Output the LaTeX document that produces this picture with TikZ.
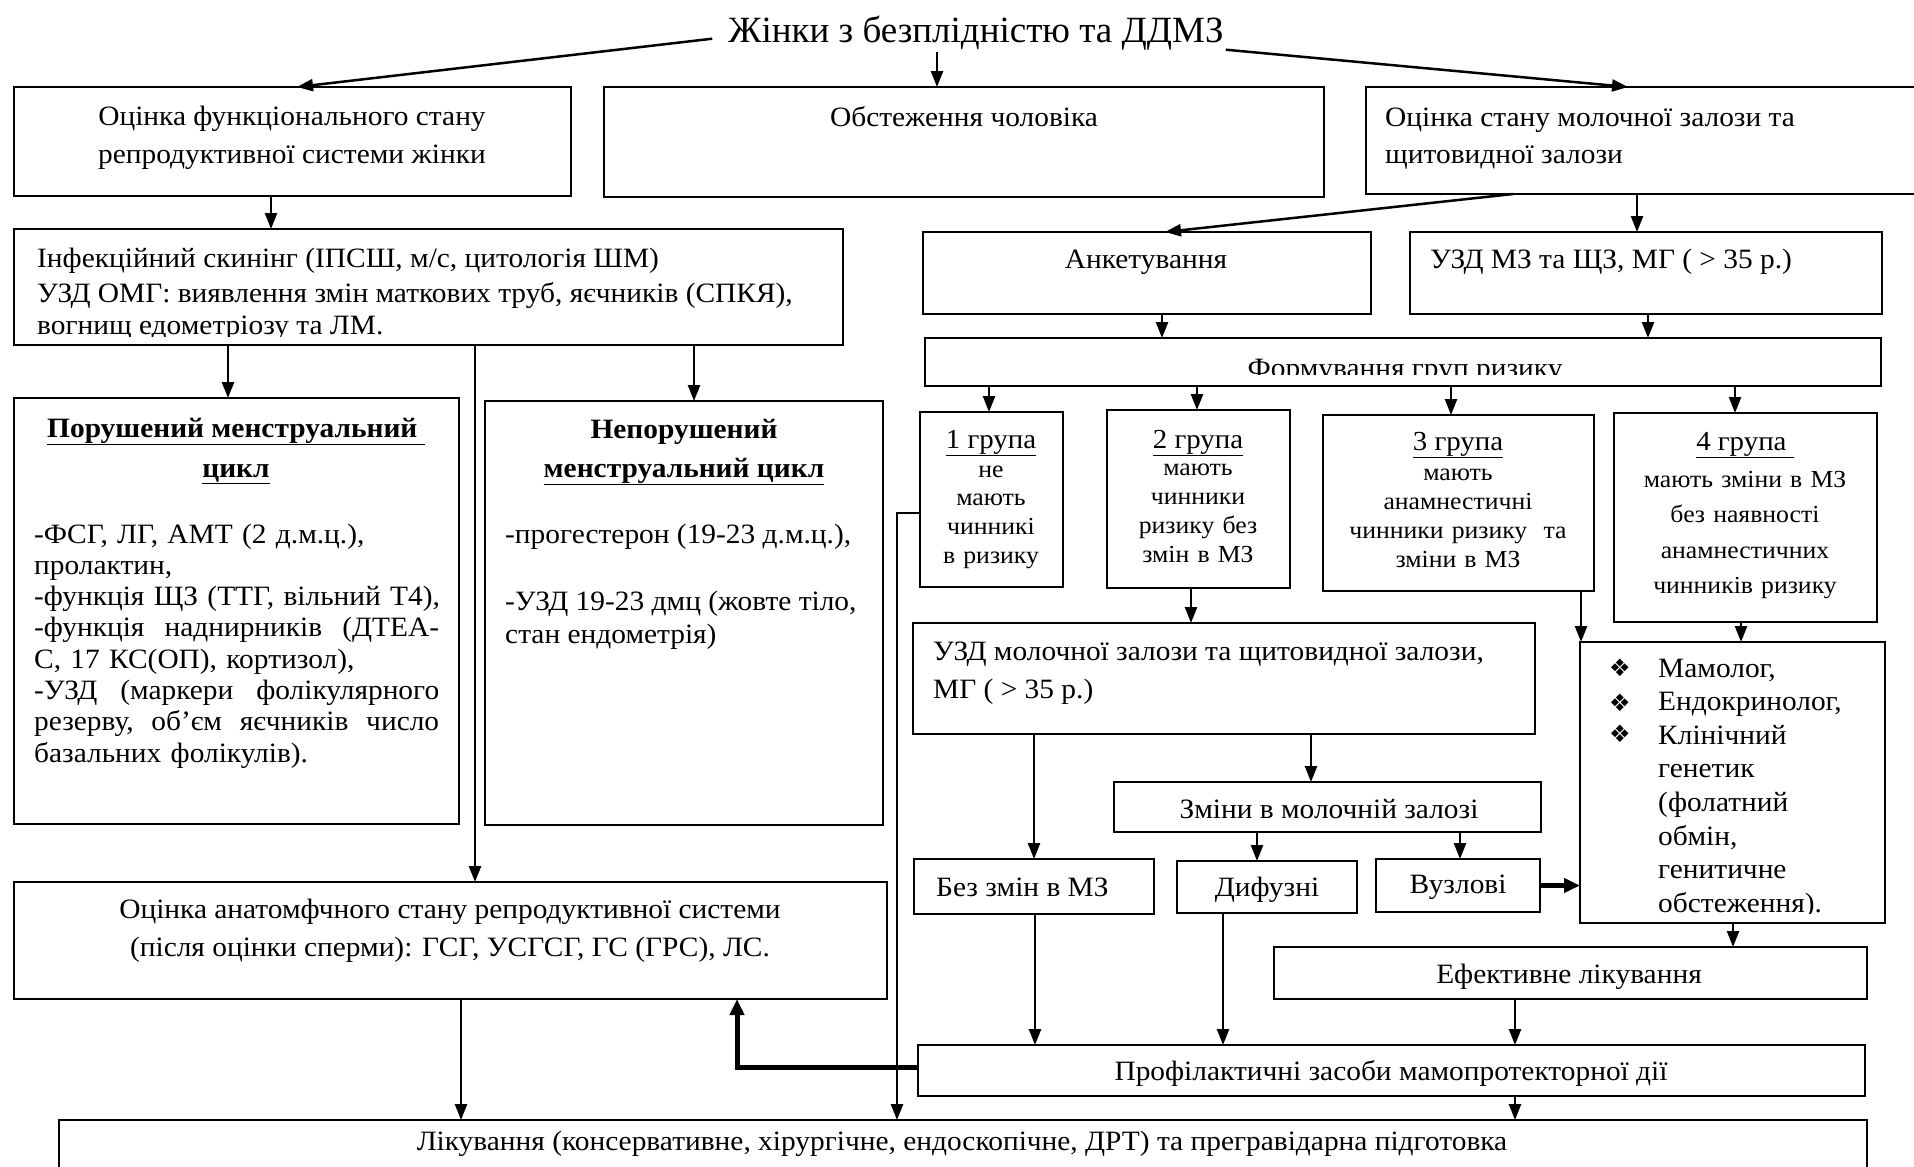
\documentclass[tikz,border=0pt]{standalone}
\usepackage{fontspec}
\setmainfont{Liberation Serif}[FakeStretch=1.05]
\newfontfamily\titlefont{Liberation Serif}
\newfontfamily\symfont{DejaVu Sans}
\usetikzlibrary{arrows.meta}
\newcommand\mybox[5]{\node[box, minimum width={(#4)-(#2)}, minimum height={(#5)-(#3)}] (#1) at (#2,#3) {};}
\newcommand\jline[1]{\leavevmode\hbox to 405pt{#1}}
\begin{document}
\begin{tikzpicture}[x=1pt,y=-1pt, font=\fontsize{28}{30}\selectfont,
  box/.style={draw, line width=2pt, inner sep=0pt, outer sep=0pt, anchor=north west},
  lbl/.style={inner sep=0pt, anchor=base},
  lbll/.style={inner sep=0pt, anchor=base west},
  bld/.style={font=\fontsize{28}{30}\selectfont\bfseries},
  arr/.style={line width=2.5pt, -{Triangle[length=16pt,width=12pt]}},
  bigarr/.style={line width=5pt, -{Triangle[length=16pt,width=14pt]}},
  grp/.style={inner sep=0pt, anchor=base, align=center, text width=#1},
  gfont/.style={font=\fontsize{24.5}{#1}\selectfont},
  ghead/.style={font=\fontsize{27.5}{29}\selectfont},
  bul/.style={inner sep=0pt, anchor=base west, font=\symfont\fontsize{24}{26}\selectfont},
]
\clip (0,0) rectangle (1914,1167);
\fill[white] (0,0) rectangle (1914,1167);

% boxes
\mybox{A}{14}{87}{571}{196}
\mybox{B}{604}{87}{1324}{197}
\mybox{C}{1366}{87}{1935}{194}
\mybox{D}{14}{229}{843}{345}
\mybox{E}{923}{232}{1371}{314}
\mybox{F}{1410}{232}{1882}{314}
\mybox{G}{925}{338}{1881}{386}
\mybox{R}{14}{398}{459}{824}
\mybox{S}{485}{401}{883}{825}
\mybox{G1}{920}{412}{1063}{587}
\mybox{G2}{1107}{410}{1290}{588}
\mybox{G3}{1323}{415}{1594}{591}
\mybox{G4}{1614}{413}{1877}{622}
\mybox{H}{913}{623}{1535}{734}
\mybox{I}{1580}{642}{1885}{923}
\mybox{J}{1114}{782}{1541}{832}
\mybox{K}{914}{859}{1154}{914}
\mybox{L}{1177}{861}{1357}{913}
\mybox{M}{1376}{859}{1540}{912}
\mybox{N}{1274}{947}{1867}{999}
\mybox{O}{14}{882}{887}{999}
\mybox{P}{918}{1045}{1865}{1096}
\mybox{Q}{59}{1120}{1867}{1190}

% texts
\node[lbl, font=\titlefont\fontsize{37}{44}\selectfont, inner sep=2pt] (T) at (976,42) {Жінки з безплідністю та ДДМЗ};
\node[lbl] (tA1) at (292,125) {Оцінка функціонального стану};
\node[lbl] (tA2) at (292,163) {репродуктивної системи жінки};
\node[lbl] (tB) at (964,126) {Обстеження чоловіка};
\node[lbll] (tC1) at (1385,126) {Оцінка стану молочної залози та};
\node[lbll] (tC2) at (1385,163) {щитовидної залози};
\node[lbll] (tD1) at (37,267) {Інфекційний скинінг (ІПСШ, м/с, цитологія ШМ)};
\node[lbll] (tD2) at (37,302) {УЗД ОМГ: виявлення змін маткових труб, яєчників (СПКЯ),};
\begin{scope}
\clip (14,229) rectangle (843,336);
\node[lbll] (tD3) at (37,334) {вогнищ едометріозу та ЛМ.};
\end{scope}
\node[lbl] (tE) at (1146,268) {Анкетування};
\node[lbll] (tF) at (1430,268) {УЗД МЗ та ЩЗ, МГ ( > 35 р.)};
\begin{scope}
\clip (925,338) rectangle (1881,374);
\node[lbl] (tG) at (1405,377) {Формування груп ризику};
\end{scope}

\node[lbl, bld] (tR1) at (236,437) {\underline{Порушений менструальний\ }};
\node[lbl, bld] (tR2) at (236,477) {\underline{цикл}};
\node[lbll, text width=440pt, align=left, font=\fontsize{28}{31.3}\selectfont] (tR3) at (34,543)
 {-ФСГ, ЛГ, АМТ (2 д.м.ц.),\\
  пролактин,\\
  -функція ЩЗ (ТТГ, вільний Т4),\\
  \jline{-функція\hfill наднирників\hfill (ДТЕА-}\\
  С, 17 КС(ОП), кортизол),\\
  \jline{-УЗД\hfill (маркери\hfill фолікулярного}\\
  \jline{резерву,\hfill об’єм\hfill яєчників\hfill число}\\
  базальних фолікулів).};

\node[lbl, bld] (tS1) at (684,438) {Непорушений};
\node[lbl, bld] (tS2) at (684,477) {\underline{менструальний цикл}};
\node[lbll] (tS3) at (505,543) {-прогестерон (19-23 д.м.ц.),};
\node[lbll] (tS4) at (505,610) {-УЗД 19-23 дмц (жовте тіло,};
\node[lbll] (tS5) at (505,643) {стан ендометрія)};

\node[lbl, ghead] (tG1a) at (991,448) {\underline{1 група}};
\node[grp=200, gfont=28.7] (tG1b) at (991,477) {не\\мають\\чинникі\\в ризику};
\node[lbl, ghead] (tG2a) at (1198,448) {\underline{2 група}};
\node[grp=240, gfont=29] (tG2b) at (1198,475) {мають\\чинники\\ризику без\\змін в МЗ};
\node[lbl, ghead] (tG3a) at (1458,450) {\underline{3 група}};
\node[grp=320, gfont=29] (tG3b) at (1458,480) {мають\\анамнестичні\\чинники ризику\ \ та\\зміни в МЗ};
\node[lbl, ghead] (tG4a) at (1745,450) {\underline{4 група\ }};
\node[grp=320, gfont=35.5] (tG4b) at (1745,487) {мають зміни в МЗ\\без наявності\\анамнестичних\\чинників ризику};

\node[lbll] (tH1) at (933,660) {УЗД молочної залози та щитовидної залози,};
\node[lbll] (tH2) at (933,698) {МГ ( > 35 р.)};

\node[bul] (b1) at (1609,676) {❖};
\node[bul] (b2) at (1609,711) {❖};
\node[bul] (b3) at (1609,742) {❖};
\begin{scope}
\clip (1580,642) rectangle (1885,913);
\node[lbll, text width=280pt, align=left, font=\fontsize{28}{33.6}\selectfont] (tI) at (1658,677)
 {Мамолог,\\Ендокринолог,\\Клінічний\\генетик\\(фолатний\\обмін,\\генитичне\\обстеження).};
\end{scope}

\node[lbl] (tJ) at (1329,818) {Зміни в молочній залозі};
\node[lbll] (tK) at (936,896) {Без змін в МЗ};
\node[lbl] (tL) at (1267,896) {Дифузні};
\node[lbl] (tM) at (1458,893) {Вузлові};
\node[lbl] (tN) at (1569,983) {Ефективне лікування};
\node[lbl] (tO1) at (450,918) {Оцінка анатомфчного стану репродуктивної системи};
\node[lbl] (tO2) at (450,956) {(після оцінки сперми): ГСГ, УСГСГ, ГС (ГРС), ЛС.};
\node[lbl] (tP) at (1391,1080) {Профілактичні засоби мамопротекторної дії};
\node[lbl] (tQ) at (962,1150) {Лікування (консервативне, хірургічне, ендоскопічне, ДРТ) та прегравідарна підготовка};

% connectors
\draw[arr] ([xshift=-14pt,yshift=-6pt]T.west) -- (A.north -| 297,0);
\draw[arr] (T.south -| 937,0) -- (B.north -| 937,0);
\draw[arr] ([yshift=-17pt]T.east) -- (C.north -| 1628,0);
\draw[arr] (A.south -| 271,0) -- (D.north -| 271,0);
\draw[arr] (C.south -| 1513,0) -- (E.north -| 1165,0);
\draw[arr] (C.south -| 1637,0) -- (F.north -| 1637,0);
\draw[arr] (E.south -| 1162,0) -- (G.north -| 1162,0);
\draw[arr] (F.south -| 1648,0) -- (G.north -| 1648,0);
\draw[arr] (G.south -| 989,0) -- (G1.north -| 989,0);
\draw[arr] (G.south -| 1197,0) -- (G2.north -| 1197,0);
\draw[arr] (G.south -| 1451,0) -- (G3.north -| 1451,0);
\draw[arr] (G.south -| 1735,0) -- (G4.north -| 1735,0);
\draw[arr] (D.south -| 228,0) -- (R.north -| 228,0);
\draw[arr] (D.south -| 694,0) -- (S.north -| 694,0);
\draw[arr] (D.south -| 475,0) -- (O.north -| 475,0);
\draw[arr] (G1.west |- 0,513) -| (Q.north -| 897,0);
\draw[arr] (G2.south -| 1191,0) -- (H.north -| 1191,0);
\draw[arr] (G3.south -| 1581,0) -- (I.north -| 1581,0);
\draw[arr] (G4.south -| 1741,0) -- (I.north -| 1741,0);
\draw[arr] (H.south -| 1034,0) -- (K.north -| 1034,0);
\draw[arr] (H.south -| 1311,0) -- (J.north -| 1311,0);
\draw[arr] (J.south -| 1257,0) -- (L.north -| 1257,0);
\draw[arr] (J.south -| 1460,0) -- (M.north -| 1460,0);
\draw[bigarr] (M.east) -- (M.east -| I.west);
\draw[arr] (I.south -| 1733,0) -- (N.north -| 1733,0);
\draw[arr] (K.south -| 1035,0) -- (P.north -| 1035,0);
\draw[arr] (L.south -| 1223,0) -- (P.north -| 1223,0);
\draw[arr] (N.south -| 1515,0) -- (P.north -| 1515,0);
\draw[arr] (P.south -| 1515,0) -- (Q.north -| 1515,0);
\draw[bigarr] (P.west |- 0,1067) -| (O.south -| 737,0);
\draw[arr] (O.south -| 461,0) -- (Q.north -| 461,0);
\end{tikzpicture}
\end{document}
